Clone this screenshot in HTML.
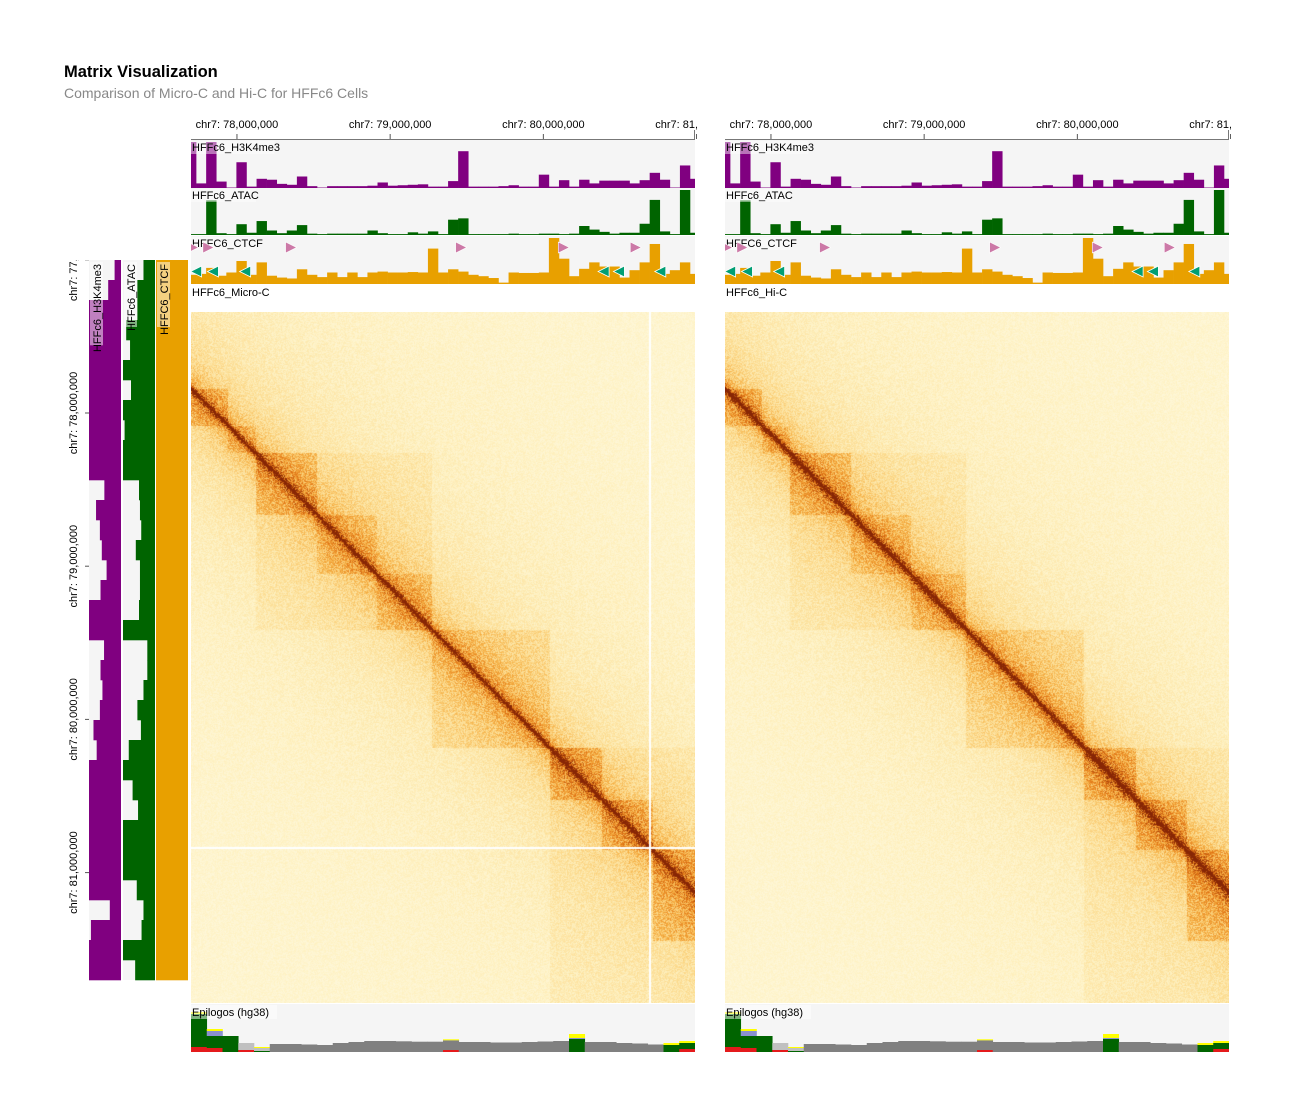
<!DOCTYPE html>
<html><head><meta charset="utf-8">
<style>
html,body{margin:0;padding:0;background:#fff;}
#root{position:relative;width:1290px;height:1112px;overflow:hidden;font-family:"Liberation Sans",sans-serif;}
canvas{position:absolute;}
svg{position:absolute;left:0;top:0;}
text{font-family:"Liberation Sans",sans-serif;}
</style></head>
<body>
<div id="root">
<svg id="svg" width="1290" height="1112">
  <text x="64" y="77" font-size="16.5" font-weight="bold" fill="#000">Matrix Visualization</text>
  <text x="64" y="98" font-size="14" fill="#888">Comparison of Micro-C and Hi-C for HFFc6 Cells</text>
</svg>
</div>
<script>
// ---- data ----
const topTicks = [78, 79, 80, 81];
const topTickLabels = ["chr7: 78,000,000","chr7: 79,000,000","chr7: 80,000,000","chr7: 81,000,000"];
const leftTicks = [77, 78, 79, 80, 81];
const leftTickLabels = ["chr7: 77,000,000","chr7: 78,000,000","chr7: 79,000,000","chr7: 80,000,000","chr7: 81,000,000"];
const h3k4me3 = [1.0,0.10,1.0,0.14,0.01,0.56,0.03,0.2,0.18,0.09,0.07,0.25,0.04,0.01,0.04,0.04,0.04,0.04,0.05,0.12,0.05,0.06,0.07,0.08,0.03,0.03,0.15,0.8,0.03,0.03,0.03,0.04,0.06,0.03,0.03,0.29,0.03,0.17,0.03,0.18,0.1,0.16,0.16,0.16,0.1,0.17,0.33,0.18,0.01,0.49,0.2];
const atac = [0.02,0.02,0.77,0.04,0.02,0.24,0.05,0.31,0.1,0.04,0.1,0.22,0.03,0.02,0.03,0.03,0.03,0.03,0.1,0.04,0.02,0.02,0.06,0.03,0.08,0.02,0.34,0.37,0.02,0.02,0.02,0.02,0.03,0.02,0.02,0.03,0.03,0.02,0.03,0.2,0.12,0.07,0.03,0.05,0.05,0.25,0.78,0.08,0.02,1.0,0.05];
const ctcf = [0.2,0.22,0.35,0.18,0.25,0.5,0.2,0.47,0.18,0.14,0.12,0.32,0.2,0.15,0.25,0.15,0.25,0.15,0.25,0.27,0.25,0.25,0.26,0.25,0.77,0.25,0.32,0.27,0.2,0.17,0.13,0.03,0.25,0.24,0.24,0.25,1.0,0.55,0.17,0.33,0.47,0.38,0.38,0.14,0.3,0.47,0.87,0.22,0.3,0.47,0.22];
const ctcfFwd = [77.71, 77.81, 78.35, 79.46, 80.13, 80.6];
const ctcfRev = [77.73, 77.84, 78.05, 80.39, 80.49, 80.76];
const leftH3 = [0.2,0.4,1,1,1,1,1,1,1,1,1,0.52,0.78,0.66,0.6,0.45,0.64,1,1,0.53,0.64,0.58,0.66,0.86,0.76,1,1,1,1,1,1,1,0.35,0.94,1,1];
const leftAtac = [0.36,0.55,0.55,0.9,0.78,1,0.75,1,0.95,1,1,0.5,0.47,0.43,0.6,0.47,0.47,0.5,1,0.24,0.24,0.36,0.55,0.44,0.82,1,0.7,0.53,1,1,1,0.57,0.36,0.42,1,0.62];
const leftCtcf = [1,1,1,1,1,1,1,1,1,1,1,1,1,1,1,1,1,1,1,1,1,1,1,1,1,1,1,1,1,1,1,1,1,1,1,1];
const epiRed    = [5,4,0,2,0,0,0,0,0,0,0,0,0,0,0,0,2,0,0,0,0,0,0,0,0,0,0,0,0,0,0,3];
const epiGreen  = [33,12,16,0,1,0,0,0,0,0,0,0,0,0,0,0,0,0,0,0,0,0,0,0,13,0,0,0,0,0,7,6];
const epiGrey   = [0,0,0,0,0,8,8,7.5,7,9,10,11,11,10.7,10.3,10.3,9.7,10,10,9.5,9.5,10,10.5,11,0,10,10,9,8.5,7.5,0,0];
const epiLight  = [0,0,0,7,3,0,0,0,0,0,0,0,0,0,0,0,0,0,0,0,0,0,0,0,0,0,0,0,0,0,0,0];
const epiBlue   = [0,5,0,0,0,0,0,0,0,0,0,0,0,0,0,0,0,0,0,0,0,0,0,0,1,0,0,0,0,0,0,0];
const epiYellow = [2,2,0,0,1,0,0,0,0,0,0,0,0,0,0,0,1,0,0,0,0,0,0,0,4,0,0,0,0,0,2,2];
const domainBounds = [77.70,77.94,78.12,78.52,78.91,79.27,80.04,80.38,80.71,81.30];
const domainWeights = [0.14,0.08,0.12,0.09,0.09,0.1,0.15,0.14,0.15];

// ---- scales ----
const PX_PER_MB = 153.2;
const X0_MB = 77.70;
const Y0_MB = 77.20;
const HM_W = 504, HM_H = 691, HM_TOP = 312;
const LEFT_TOP = 260, LEFT_BOT = 980;
function xScale(mb, ox){ return ox + (mb - X0_MB) * PX_PER_MB; }
function yScale(mb){ return HM_TOP + (mb - Y0_MB) * PX_PER_MB; }

const NS = "http://www.w3.org/2000/svg";
const svg = document.getElementById('svg');
function mk(tag, attrs, parent){
  const e = document.createElementNS(NS, tag);
  for (const k in attrs) e.setAttribute(k, attrs[k]);
  (parent||svg).appendChild(e);
  return e;
}
let clipId = 0;
function clipRect(x,y,w,h){
  const id = 'c'+(clipId++);
  const cp = mk('clipPath',{id:id});
  mk('rect',{x:x,y:y,width:w,height:h},cp);
  return 'url(#'+id+')';
}

function barTrack(ox, y, h, vals, color, label, name){
  const g = mk('g',{'clip-path':clipRect(ox,y,HM_W,h)});
  
  
  mk('rect',{x:ox,y:y,width:HM_W,height:h,fill:'#f5f5f5'},g);
  const bw = HM_W/50;
  vals.forEach((v,i)=>{
    const bh = v*(h-2);
    const b = mk('rect',{x:ox-5+i*bw,y:y+h-bh,width:bw+0.3,height:bh,fill:color},g);
    
    
  });
  const tl = mk('rect',{x:ox,y:y+1,width:label.length*6.1+4,height:13,fill:'rgba(255,255,255,0.45)'});
  
  
  const t = mk('text',{x:ox+1,y:y+11,'font-size':11,fill:'#000'});
  t.textContent = label;
  
  
}

function colorMap(t){
  const stops=[[0,255,253,240],[0.15,254,242,196],[0.33,252,218,140],[0.52,245,174,66],[0.72,226,118,22],[1,135,38,5]];
  t=Math.max(0,Math.min(1,t));
  for(let i=1;i<stops.length;i++){
    if(t<=stops[i][0]){
      const a=stops[i-1],b=stops[i],f=(t-a[0])/(b[0]-a[0]);
      return [a[1]+(b[1]-a[1])*f,a[2]+(b[2]-a[2])*f,a[3]+(b[3]-a[3])*f];
    }
  }
  return [135,38,5];
}
function domainOf(mb){
  for(let i=0;i<domainBounds.length-1;i++) if(mb>=domainBounds[i]&&mb<domainBounds[i+1]) return i;
  return -1;
}
function hash(x,y,s){
  let h = (x*374761393 + y*668265263 + s*982451653)|0;
  h = (h^(h>>>13))*1274126177|0;
  return ((h^(h>>>16))>>>0)/4294967295;
}
function heatmap(ox, name, whiteLines, seed, sharp){
  const c = document.createElement('canvas');
  c.width=HM_W; c.height=HM_H;
  c.style.left=ox+'px'; c.style.top=HM_TOP+'px';
  
  
  document.getElementById('root').appendChild(c);
  const ctx=c.getContext('2d');
  const img=ctx.createImageData(HM_W,HM_H);
  for(let py=0;py<HM_H;py++){
    const gy = Y0_MB + py/PX_PER_MB;
    const dy = domainOf(gy);
    for(let px=0;px<HM_W;px++){
      const gx = X0_MB + px/PX_PER_MB;
      const d = Math.abs(gx-gy)*PX_PER_MB;
      let v = 0.1 + 0.85*Math.exp(-d/sharp) + 0.22*Math.exp(-d/18) + 0.16*Math.exp(-d/70) + 0.1*Math.exp(-d/250);
      const dx = domainOf(gx);
      if(dx>=0 && dx===dy) v += domainWeights[dx];
      if(gx>78.12&&gx<79.27&&gy>78.12&&gy<79.27) v+=0.05;
      if(gx>80.04&&gy>80.04) v+=0.05;
      const r = hash(px,py,seed);
      v *= 0.65 + 0.7*r;
      const col = colorMap(v);
      const k=(py*HM_W+px)*4;
      img.data[k]=col[0];img.data[k+1]=col[1];img.data[k+2]=col[2];img.data[k+3]=255;
    }
  }
  ctx.putImageData(img,0,0);
  if(whiteLines){
    ctx.fillStyle='#fff';
    ctx.fillRect(Math.round(xScale(80.69,0)),0,2,HM_H);
    ctx.fillRect(0,Math.round(yScale(80.69)-HM_TOP),HM_W,2);
  }
}

function panel(ox, hmName, labelText, whiteLines, seed, sharp){
  const ag = mk('g',{'clip-path':clipRect(ox-2,110,HM_W+4,40)});
  
  
  mk('line',{x1:ox,x2:ox+HM_W,y1:139.5,y2:139.5,stroke:'#777','stroke-width':1},ag);
  topTicks.forEach((t,i)=>{
    const x = xScale(t,ox);
    mk('line',{x1:x,x2:x,y1:134,y2:139,stroke:'#555'},ag);
    const tx = mk('text',{x:x,y:128,'font-size':11,'text-anchor':'middle',fill:'#000'},ag);
    tx.textContent = topTickLabels[i];
    
    
  });
  mk('line',{x1:ox+HM_W-0.5,x2:ox+HM_W-0.5,y1:130,y2:140,stroke:'#777'});
  barTrack(ox,140,48,h3k4me3,'#800080','HFFc6_H3K4me3','h3k4me3');
  barTrack(ox,188,47,atac,'#006400','HFFc6_ATAC','atac');
  barTrack(ox,236,48,ctcf,'#e8a000','HFFC6_CTCF','ctcf');
  const cg = mk('g',{'clip-path':clipRect(ox,236,HM_W,48)});
  ctcfFwd.forEach(m=>{
    const x=xScale(m,ox);
    const p=mk('polygon',{points:`${x-5},${242} ${x+6},${247.5} ${x-5},${253}`,fill:'#cc79a7',stroke:'#fff','stroke-width':0.6},cg);
    
    
  });
  ctcfRev.forEach(m=>{
    const x=xScale(m,ox);
    const p=mk('polygon',{points:`${x+6},${266} ${x-5},${271.5} ${x+6},${277}`,fill:'#009e73',stroke:'#fff','stroke-width':0.8},cg);
    
    
  });
  const lt = mk('text',{x:ox+1,y:296,'font-size':11,fill:'#000'});
  lt.textContent = labelText;
  
  
  heatmap(ox, hmName, whiteLines, seed, sharp);
  const eg = mk('g',{'clip-path':clipRect(ox,1004,HM_W,48)});
  
  
  mk('rect',{x:ox,y:1004,width:HM_W,height:48,fill:'#f5f5f5'},eg);
  const ebw = HM_W/32;
  const layers=[[epiRed,'#e41a1c'],[epiGreen,'#006400'],[epiGrey,'#808080'],[epiLight,'#c0c0c0'],[epiBlue,'#8a91d0'],[epiYellow,'#ffff00']];
  for(let i=0;i<32;i++){
    let base=1052;
    layers.forEach(([arr,col])=>{
      const h=arr[i]; if(!h) return;
      const r=mk('rect',{x:ox+i*ebw,y:base-h,width:ebw+0.3,height:h,fill:col},eg);
      
      
      base-=h;
    });
  }
  mk('rect',{x:ox,y:1005,width:86,height:14,fill:'rgba(255,255,255,0.5)'});
  const et = mk('text',{x:ox+1,y:1016,'font-size':11,fill:'#000'});
  et.textContent='Epilogos (hg38)';
  
  
}

panel(191,'micro-c','HFFc6_Micro-C',true,7,2.2);
panel(725,'hi-c','HFFc6_Hi-C',false,13,2.8);

function leftTrack(x, w, vals, color, label, name, labelBg){
  const g = mk('g',{});
  
  
  mk('rect',{x:x,y:LEFT_TOP,width:w,height:LEFT_BOT-LEFT_TOP,fill:'#f5f5f5'},g);
  const bh=(LEFT_BOT-LEFT_TOP)/vals.length;
  vals.forEach((v,i)=>{
    const bw=v*w;
    const r=mk('rect',{x:x+w-bw,y:LEFT_TOP+i*bh,width:bw,height:bh+0.3,fill:color},g);
    
    
  });
  const tw = label.length*6.1+4;
  const cx = x+8, cy = LEFT_TOP+2;
  mk('rect',{x:cx-7,y:cy,width:13,height:tw,fill:labelBg});
  const t=mk('text',{x:0,y:0,'font-size':11,fill:'#000','text-anchor':'end',transform:`translate(${cx+4},${cy+2}) rotate(-90)`});
  t.textContent=label;
  
  
}
leftTrack(89,32,leftH3,'#800080','HFFc6_H3K4me3','h3k4me3','rgba(255,255,255,0.5)');
leftTrack(123,32,leftAtac,'#006400','HFFc6_ATAC','atac','rgba(255,255,255,0.5)');
leftTrack(156,32,leftCtcf,'#e8a000','HFFC6_CTCF','ctcf','rgba(255,255,255,0.5)');

const lag = mk('g',{'clip-path':clipRect(55,LEFT_TOP,36,LEFT_BOT-LEFT_TOP)});


leftTicks.forEach((t,i)=>{
  const y = yScale(t)+(413-yScale(78));
  mk('line',{x1:85,x2:89,y1:y,y2:y,stroke:'#555'},lag);
  const tx=mk('text',{x:0,y:0,'font-size':11,'text-anchor':'middle',fill:'#000',transform:`translate(77,${y}) rotate(-90)`},lag);
  tx.textContent=leftTickLabels[i];
  
  
});
</script>
</body></html>
